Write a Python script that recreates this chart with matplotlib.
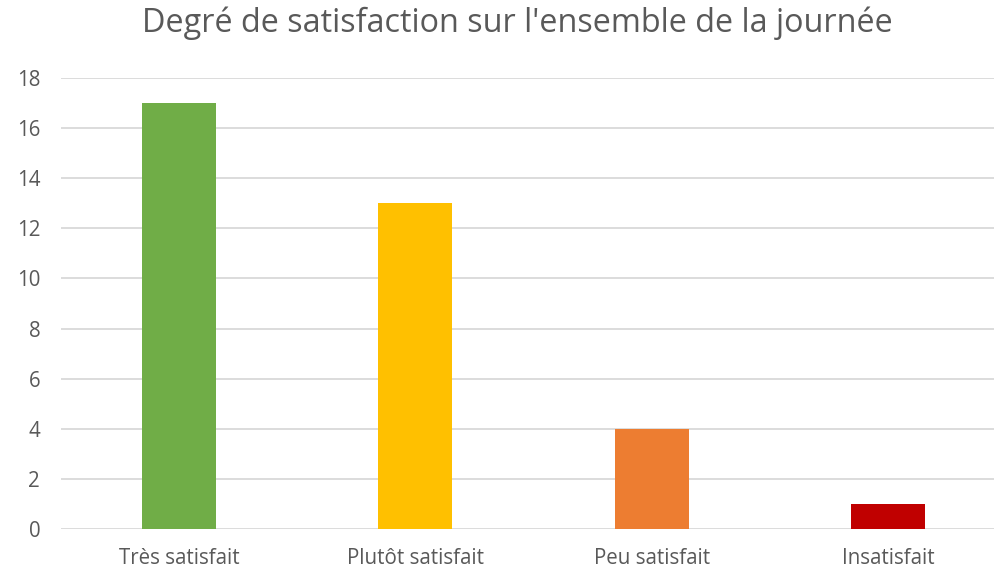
import matplotlib.pyplot as plt

categories = ["Très satisfait", "Plutôt satisfait", "Peu satisfait", "Insatisfait"]
values = [17, 13, 4, 1]
colors = ["#70AD47", "#FFC000", "#ED7D31", "#C00000"]
yticks = [0, 2, 4, 6, 8, 10, 12, 14, 16, 18]

plt.rcParams["font.family"] = ["Open Sans", "DejaVu Sans"]

fig = plt.figure(figsize=(9.94, 5.71), dpi=100)
# plot area runs past the right edge, as in the reference crop
ax = fig.add_axes([61 / 994, 42 / 571, 945 / 994, 451 / 571])

x = range(len(categories))
ax.bar(x, values, width=0.313, color=colors, zorder=3)

ax.set_xlim(-0.5, 3.5)
ax.set_ylim(0, 18)
ax.set_yticks(yticks)
ax.set_xticks(list(x))
ax.set_xticklabels(categories)
ax.yaxis.grid(True, color="#d9d9d9", linewidth=1.3, zorder=0)
ax.tick_params(axis="both", length=0, labelsize=14.8, labelcolor="#595959")
ax.tick_params(axis="y", pad=15)
ax.tick_params(axis="x", pad=14)
for side in ["top", "right", "left", "bottom"]:
    ax.spines[side].set_visible(False)

fig.text(517 / 994, 1 - 23 / 571, "Degré de satisfaction sur l'ensemble de la journée",
         ha="center", va="center", fontsize=23.3, color="#595959")

fig.savefig("out.png", dpi=100)
